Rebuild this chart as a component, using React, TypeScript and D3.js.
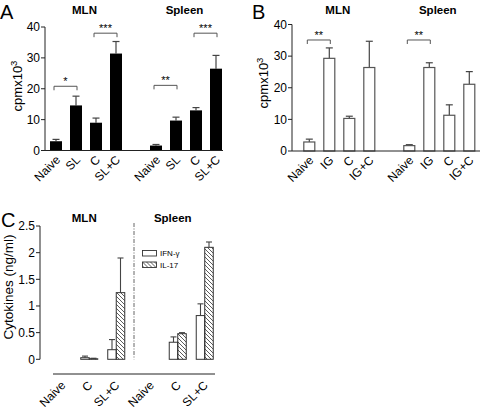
import React from 'react';
import * as d3 from 'd3';

// ---------- data ----------
const organs = ["MLN", "Spleen"];
const aCategories = ["Naive", "SL", "C", "SL+C"];
const aMLN = [3.0, 14.6, 9.0, 31.4];
const aMLNErr = [0.6, 3.0, 1.5, 3.9];
const aSpleen = [1.6, 9.7, 13.0, 26.5];
const aSpleenErr = [0.35, 1.1, 0.9, 4.3];
const bCategories = ["Naive", "IG", "C", "IG+C"];
const bMLN = [2.85, 29.3, 10.3, 26.4];
const bMLNErr = [0.9, 3.3, 0.7, 8.3];
const bSpleen = [1.7, 26.4, 11.3, 21.1];
const bSpleenErr = [0.3, 1.5, 3.3, 4.0];
const cpmTicks = [0, 10, 20, 30, 40];
// significance brackets: organ, from category index, to category index, height, label
const aSig = [
  { organ: "MLN", from: 0, to: 1, y: 20.8, label: "*" },
  { organ: "MLN", from: 2, to: 3, y: 38, label: "***" },
  { organ: "Spleen", from: 0, to: 1, y: 21.1, label: "**" },
  { organ: "Spleen", from: 2, to: 3, y: 38, label: "***" },
];
const bSig = [
  { organ: "MLN", from: 0, to: 1, y: 35.1, label: "**" },
  { organ: "Spleen", from: 0, to: 1, y: 35.1, label: "**" },
];
const cConditions = ["Naive", "C", "SL+C"];
const cSeries = ["IFN-γ", "IL-17"];
const cMLNIfn = [0, 0.03, 0.18];
const cMLNIfnErr = [0, 0.03, 0.19];
const cMLNIl17 = [0, 0.01, 1.25];
const cMLNIl17Err = [0, 0.01, 0.65];
const cSpleenIfn = [0, 0.32, 0.82];
const cSpleenIfnErr = [0, 0.1, 0.22];
const cSpleenIl17 = [0, 0.48, 2.1];
const cSpleenIl17Err = [0, 0.02, 0.1];
const cTicks = [0, 0.5, 1, 1.5, 2, 2.5];

const FONT = "'Liberation Sans', Arial, Helvetica, sans-serif";
const AX = "#222";
const ERR = "#444";

type PanelProps = {
  letter: string;
  categories: string[];
  mln: number[];
  mlnErr: number[];
  spleen: number[];
  spleenErr: number[];
  sig: { organ: string; from: number; to: number; y: number; label: string }[];
  filled: boolean;
  axisX: number;
  bandRange: [number, number];
  yRange: [number, number];
  axisEnd: number;
  labelX: number;
  labelY: number;
  letterX: number;
};

function CpmPanel(p: PanelProps) {
  const slots = [
    ...p.categories.map((c) => "MLN|" + c),
    "gap",
    ...p.categories.map((c) => "Spleen|" + c),
  ];
  const x = d3.scaleBand<string>().domain(slots).range(p.bandRange).paddingInner(0.4).paddingOuter(0.2);
  const y = d3.scaleLinear().domain([0, 40]).range(p.yRange);
  const bw = x.bandwidth();
  const rows: { key: string; cat: string; v: number; e: number }[] = [];
  p.categories.forEach((c, i) => rows.push({ key: "MLN|" + c, cat: c, v: p.mln[i], e: p.mlnErr[i] }));
  p.categories.forEach((c, i) => rows.push({ key: "Spleen|" + c, cat: c, v: p.spleen[i], e: p.spleenErr[i] }));
  const y0 = y(0);
  const groupCenter = (o: string) =>
    ((x(o + "|" + p.categories[0]) as number) + (x(o + "|" + p.categories[3]) as number) + bw) / 2;
  return (
    <g>
      <text x={p.letterX} y={18.5} fontSize={20} fontFamily={FONT}>{p.letter}</text>
      {organs.map((o) => (
        <text key={o} x={groupCenter(o) - 1.5} y={14} fontSize={11.5} fontWeight="bold" textAnchor="middle" fontFamily={FONT}>
          {o}
        </text>
      ))}
      <text transform={`translate(${p.labelX},${p.labelY}) rotate(-90)`} fontSize={13} textAnchor="middle" fontFamily={FONT}>
        cpmx10<tspan dy={-5} fontSize={9.5}>3</tspan>
      </text>
      {/* y axis */}
      <line x1={p.axisX} x2={p.axisX} y1={y(40)} y2={y0} stroke={AX} strokeWidth={1} />
      {cpmTicks.map((t) => (
        <g key={t}>
          <line x1={p.axisX - 4} x2={p.axisX} y1={y(t)} y2={y(t)} stroke={AX} />
          <text x={p.axisX - 5} y={y(t)} dy="0.36em" fontSize={12} textAnchor="end" fontFamily={FONT}>{t}</text>
        </g>
      ))}
      {/* bars */}
      {rows.map((r) => {
        const bx = x(r.key) as number;
        const cx = bx + bw / 2;
        return (
          <g key={r.key}>
            <line x1={cx} x2={cx} y1={y(r.v)} y2={y(r.v + r.e)} stroke={ERR} strokeWidth={1.2} />
            <line x1={cx - 3.5} x2={cx + 3.5} y1={y(r.v + r.e)} y2={y(r.v + r.e)} stroke={ERR} strokeWidth={1.2} />
            <rect
              x={p.filled ? bx : bx + 0.5}
              y={y(r.v)}
              width={p.filled ? bw : bw - 1}
              height={y0 - y(r.v)}
              fill={p.filled ? "#000" : "#fff"}
              stroke={p.filled ? "none" : "#555"}
              strokeWidth={1.2}
            />
            <text
              transform={`translate(${cx + 5},${y0 + 10}) rotate(-45)`}
              fontSize={12}
              textAnchor="end"
              fontFamily={FONT}
            >
              {r.cat}
            </text>
          </g>
        );
      })}
      {/* x axis */}
      <line x1={p.axisX} x2={p.axisEnd} y1={y0} y2={y0} stroke={AX} strokeWidth={1} />
      {/* brackets */}
      {p.sig.map((s, i) => {
        const x1 = (x(s.organ + "|" + p.categories[s.from]) as number) + bw / 2 - 2;
        const x2 = (x(s.organ + "|" + p.categories[s.to]) as number) + bw / 2 + 1;
        const yy = y(s.y);
        return (
          <g key={i}>
            <path d={`M${x1},${yy + 4}V${yy}H${x2}V${yy + 4}`} fill="none" stroke="#555" strokeWidth={1} />
            <text x={(x1 + x2) / 2} y={yy - 1} fontSize={11} textAnchor="middle" fontFamily={FONT}>{s.label}</text>
          </g>
        );
      })}
    </g>
  );
}

function CytokinePanel() {
  const outer = d3.scaleBand<string>().domain(organs).range([45, 222]);
  const inner = d3.scaleBand<string>().domain(cConditions).range([0, outer.bandwidth()]).paddingInner(0.37).paddingOuter(0.324);
  const sub = d3.scaleBand<string>().domain(cSeries).range([0, inner.bandwidth()]);
  const y = d3.scaleLinear().domain([0, 2.5]).range([359.3, 226]);
  const y0 = y(0);
  const axisX = 40;
  const xAxisY = 374;
  const data: Record<string, number[][]> = {
    MLN: [cMLNIfn, cMLNIfnErr, cMLNIl17, cMLNIl17Err],
    Spleen: [cSpleenIfn, cSpleenIfnErr, cSpleenIl17, cSpleenIl17Err],
  };
  const sw = sub.bandwidth();
  const divX = (outer("Spleen") as number) + 0.5;
  return (
    <g>
      <defs>
        <pattern id="hatch" patternUnits="userSpaceOnUse" width={4} height={4}>
          <path d="M0,0L4,4M-1,3L1,5M3,-1L5,1" stroke="#333" strokeWidth={0.8} />
        </pattern>
      </defs>
      <text x={1} y={227} fontSize={20} fontFamily={FONT}>C</text>
      {organs.map((o) => (
        <text key={o} x={(outer(o) as number) + outer.bandwidth() / 2 - 5} y={222} fontSize={11.5} fontWeight="bold" textAnchor="middle" fontFamily={FONT}>
          {o}
        </text>
      ))}
      <text transform="translate(13,287) rotate(-90)" fontSize={13.5} textAnchor="middle" fontFamily={FONT}>
        Cytokines (ng/ml)
      </text>
      <line x1={axisX} x2={axisX} y1={y(2.5)} y2={y0} stroke={AX} />
      {cTicks.map((t) => (
        <g key={t}>
          <line x1={axisX - 4} x2={axisX} y1={y(t)} y2={y(t)} stroke={AX} />
          <text x={axisX - 5} y={y(t)} dy="0.36em" fontSize={12} textAnchor="end" fontFamily={FONT}>{t}</text>
        </g>
      ))}
      <line x1={divX} x2={divX} y1={223} y2={y0} stroke="#555" strokeWidth={0.9} strokeDasharray="4,1.5,1,1.5" />
      {organs.map((o) =>
        cConditions.map((c, i) => {
          const gx = (outer(o) as number) + (inner(c) as number);
          const [ifn, ifnE, il, ilE] = data[o];
          const bars = [
            { s: cSeries[0], v: ifn[i], e: ifnE[i], fill: "#fff" },
            { s: cSeries[1], v: il[i], e: ilE[i], fill: "url(#hatch)" },
          ];
          return (
            <g key={o + c}>
              {bars.map((b) => {
                const bx = gx + (sub(b.s) as number);
                const cx = bx + sw / 2;
                return (
                  <g key={b.s}>
                    {b.e > 0 && (
                      <g>
                        <line x1={cx} x2={cx} y1={y(b.v)} y2={y(b.v + b.e)} stroke={ERR} strokeWidth={1.1} />
                        <line x1={cx - 3} x2={cx + 3} y1={y(b.v + b.e)} y2={y(b.v + b.e)} stroke={ERR} strokeWidth={1.1} />
                      </g>
                    )}
                    <rect x={bx} y={y(b.v)} width={sw} height={y0 - y(b.v)} fill={b.fill} stroke="#333" strokeWidth={1} />
                  </g>
                );
              })}
              <text
                transform={`translate(${gx + inner.bandwidth() / 2 + 4},${xAxisY + 12}) rotate(-45)`}
                fontSize={12}
                textAnchor="end"
                fontFamily={FONT}
              >
                {c}
              </text>
            </g>
          );
        })
      )}
      <line x1={53} x2={215} y1={xAxisY} y2={xAxisY} stroke={AX} />
      {/* legend */}
      {cSeries.map((s, i) => (
        <g key={s} transform={`translate(142.5,${250.5 + i * 11.5})`}>
          <rect x={0} y={0} width={14} height={5.5} fill={i === 0 ? "#fff" : "url(#hatch)"} stroke="#333" strokeWidth={0.9} />
          <text x={17.5} y={2.75} dy="0.36em" fontSize={8} fontFamily={FONT}>{s}</text>
        </g>
      ))}
    </g>
  );
}

export default function App() {
  return (
    <svg width={482} height={410} style={{ position: "absolute", left: 0, top: 0, background: "#fff" }}>
      <rect width={482} height={410} fill="#fff" />
      <CpmPanel
        letter="A"
        categories={aCategories}
        mln={aMLN}
        mlnErr={aMLNErr}
        spleen={aSpleen}
        spleenErr={aSpleenErr}
        sig={aSig}
        filled={true}
        axisX={45}
        bandRange={[46, 226]}
        yRange={[150.5, 27]}
        axisEnd={223}
        labelX={22}
        labelY={86}
        letterX={0}
      />
      <CpmPanel
        letter="B"
        categories={bCategories}
        mln={bMLN}
        mlnErr={bMLNErr}
        spleen={bSpleen}
        spleenErr={bSpleenErr}
        sig={bSig}
        filled={false}
        axisX={292}
        bandRange={[299.3, 479.3]}
        yRange={[151, 24.5]}
        axisEnd={480}
        labelX={267.5}
        labelY={83}
        letterX={252}
      />
      <CytokinePanel />
    </svg>
  );
}
